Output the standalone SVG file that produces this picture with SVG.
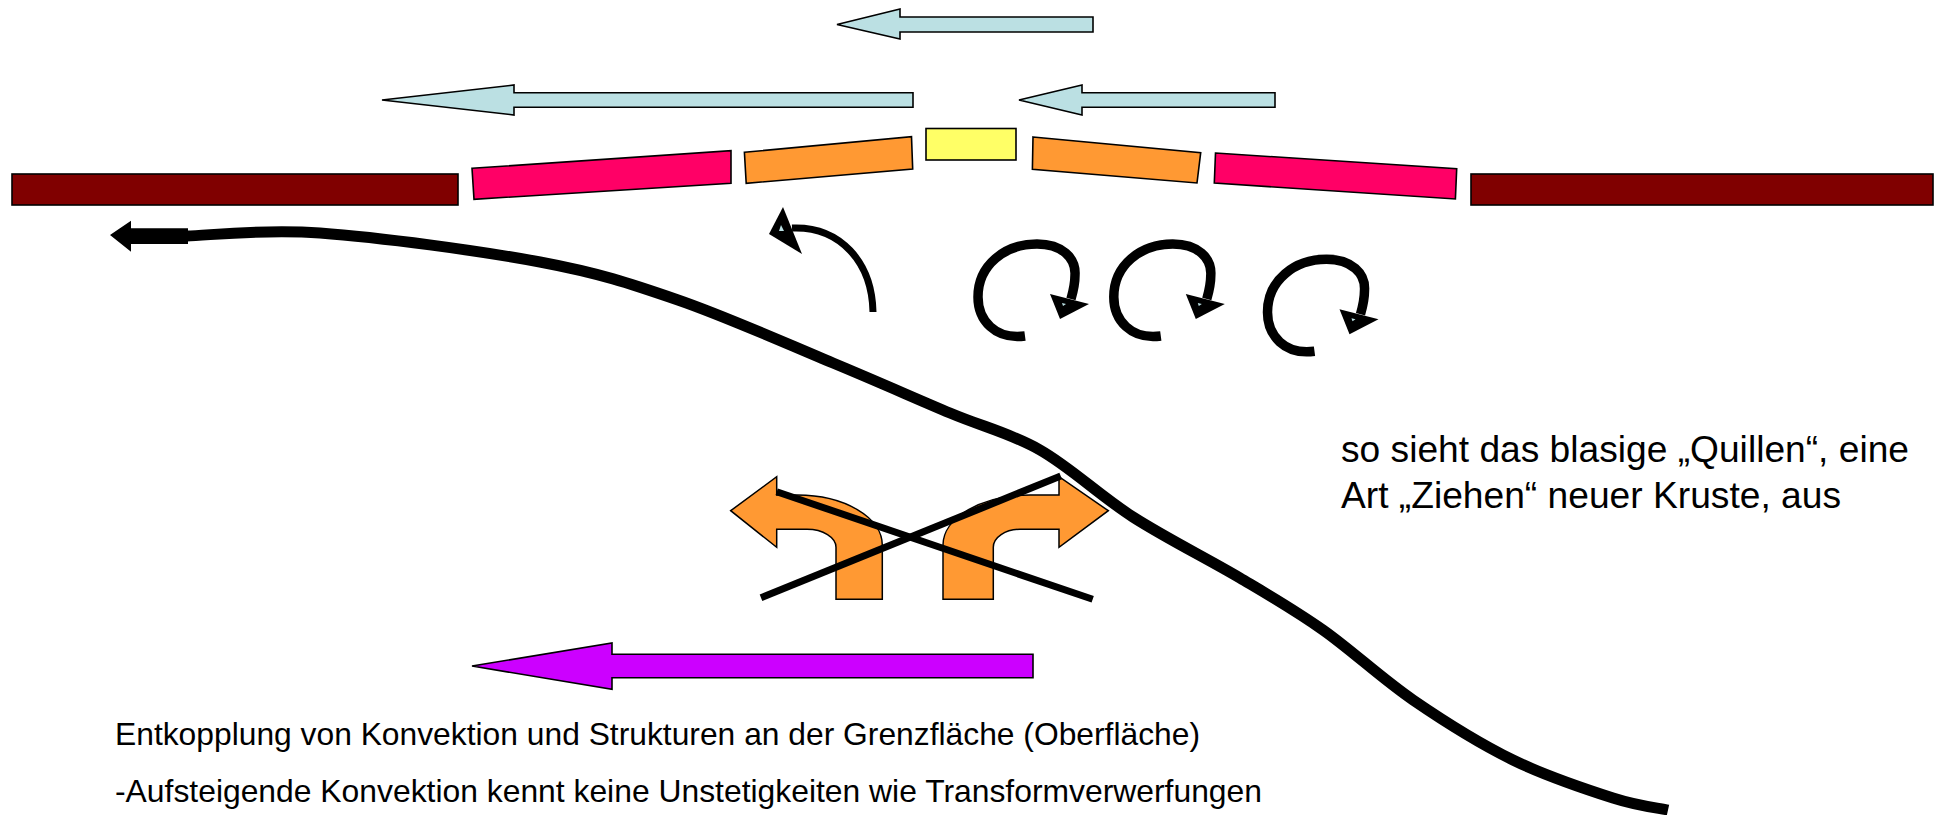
<svg xmlns="http://www.w3.org/2000/svg" width="1934" height="815" viewBox="0 0 1934 815">
<style>
.blue{fill:#BBE0E3;stroke:#000;stroke-width:1.6;stroke-linejoin:miter}
.plate{stroke:#000;stroke-width:1.6}
.brown{fill:#800000}
.pink{fill:#FF0066}
.orange{fill:#FF9933}
.yellow{fill:#FFFF66}
.uturn{fill:#FF9933;stroke:#000;stroke-width:1.5}
.thick{fill:none;stroke:#000;stroke-linecap:butt}
.head{fill:#000}
.hole{fill:#BBE0E3}
.txt{font-family:"Liberation Sans",Arial,sans-serif;fill:#000}
</style>
<defs>
<g id="swirl">
<path class="thick" stroke-width="9.5" d="M 1025 336 C 995 340, 978 320, 978 297 C 978 265, 1005 244, 1037 244 C 1062 244, 1076 258, 1075 275 C 1075 285, 1073 292, 1071 299"/>
<polygon class="head" points="1050,294 1089,304 1060,319"/>
<polygon class="hole" points="1062,303 1066,304 1063,306"/>
</g>
</defs>

<g id="arrow-top-small"><polygon class="blue" points="837,24.5 900,9 900,17 1093,17 1093,32 900,32 900,39"/></g>
<g id="arrow-top-long"><polygon class="blue" points="382,100 514,85 514,92.7 913,92.7 913,107.3 514,107.3 514,115"/></g>
<g id="arrow-top-right"><polygon class="blue" points="1019,100 1082,85 1082,92.7 1275,92.7 1275,107.3 1082,107.3 1082,115"/></g>

<g id="plate-left-outer"><rect class="plate brown" x="12" y="174" width="446" height="31"/></g>
<g id="plate-left-pink"><polygon class="plate pink" points="472,168.3 731,150.7 731,183.3 474,199.3"/></g>
<g id="plate-left-orange"><polygon class="plate orange" points="744.4,152.3 911.5,136.7 912.7,169 746.2,183.3"/></g>
<g id="ridge"><rect class="plate yellow" x="926" y="128.5" width="90" height="31.5"/></g>
<g id="plate-right-orange"><polygon class="plate orange" points="1033,137 1200.7,152.7 1197,183 1032.4,169.3"/></g>
<g id="plate-right-pink"><polygon class="plate pink" points="1215.5,153 1456.7,168.7 1455.4,199 1214.3,183"/></g>
<g id="plate-right-outer"><rect class="plate brown" x="1471" y="174" width="462" height="31"/></g>

<g id="uturn-left"><path class="uturn" d="M 730.7 510.7 L 776.7 476.7 L 776.7 495 L 797 495 A 85 50 0 0 1 882.3 545 L 882.3 599.3 L 836 599.3 L 836 547.3 A 29 18 0 0 0 807 529.3 L 776.7 529.3 L 776.7 547.3 Z"/></g>
<g id="uturn-right"><path class="uturn" d="M 1108.3 510.7 L 1059 476.7 L 1059 495 L 1030 495 A 87 50 0 0 0 943 545 L 943 599.3 L 993.3 599.3 L 993.3 547.3 A 26.7 18 0 0 1 1020 529.3 L 1059 529.3 L 1059 547.3 Z"/></g>
<g id="cross">
<line x1="776.7" y1="491.7" x2="1092.7" y2="599.3" stroke="#000" stroke-width="7"/>
<line x1="761" y1="597.7" x2="1060.7" y2="476" stroke="#000" stroke-width="7"/>
</g>

<g id="magenta-arrow"><polygon points="472,666 612,643 612,654.3 1033,654.3 1033,677.7 612,677.7 612,689.3" fill="#CC00FF" stroke="#000" stroke-width="1.6"/></g>

<g id="connectors">
<g id="slab-curve">
<path class="thick" stroke-width="11" d="M 187 236 C 209 235.5, 261 228.7, 320 233 C 379 237.3, 480.3 250.8, 540 262 C 599.7 273.2, 629.2 283.2, 678 300 C 726.8 316.8, 787.7 344.2, 833 363 C 878.3 381.8, 915.5 398.5, 950 413 C 984.5 427.5, 1009.5 432.7, 1040 450 C 1070.5 467.3, 1099.7 495.7, 1133 517 C 1166.3 538.3, 1208.3 559.2, 1240 578 C 1271.7 596.8, 1294.2 609.7, 1323 630 C 1351.8 650.3, 1381.3 678.3, 1413 700 C 1444.7 721.7, 1479.7 743.7, 1513 760 C 1546.3 776.3, 1587.2 789.7, 1613 798 C 1638.8 806.3, 1658.8 808, 1668 810"/>
<polygon class="head" points="110,235 131,220.7 131,228.3 188,228.3 188,244 131,244 131,251.7"/>
</g>
<g id="curved-arrow">
<path class="thick" stroke-width="7" d="M 873 312 C 872 262, 840 226, 792 228"/>
<polygon class="head" points="783,207 769,234 802,254"/>
<polygon class="hole" points="781,225 779,231 784,231"/>
</g>
<g id="swirl-1"><use href="#swirl"/></g>
<g id="swirl-2"><use href="#swirl" transform="translate(135.8,0)"/></g>
<g id="swirl-3"><use href="#swirl" transform="translate(289.5,15.3)"/></g>
</g>

<g id="label-right">
<text class="txt" font-size="36.5" x="1341" y="462" textLength="568" lengthAdjust="spacingAndGlyphs">so sieht das blasige „Quillen“, eine</text>
<text class="txt" font-size="36.5" x="1341" y="508" textLength="500" lengthAdjust="spacingAndGlyphs">Art „Ziehen“ neuer Kruste, aus</text>
</g>
<g id="caption">
<text class="txt" font-size="31.5" x="115" y="745" textLength="1085" lengthAdjust="spacingAndGlyphs">Entkopplung von Konvektion und Strukturen an der Grenzfläche (Oberfläche)</text>
<text class="txt" font-size="31.5" x="115" y="802" textLength="1147" lengthAdjust="spacingAndGlyphs">-Aufsteigende Konvektion kennt keine Unstetigkeiten wie Transformverwerfungen</text>
</g>
</svg>
